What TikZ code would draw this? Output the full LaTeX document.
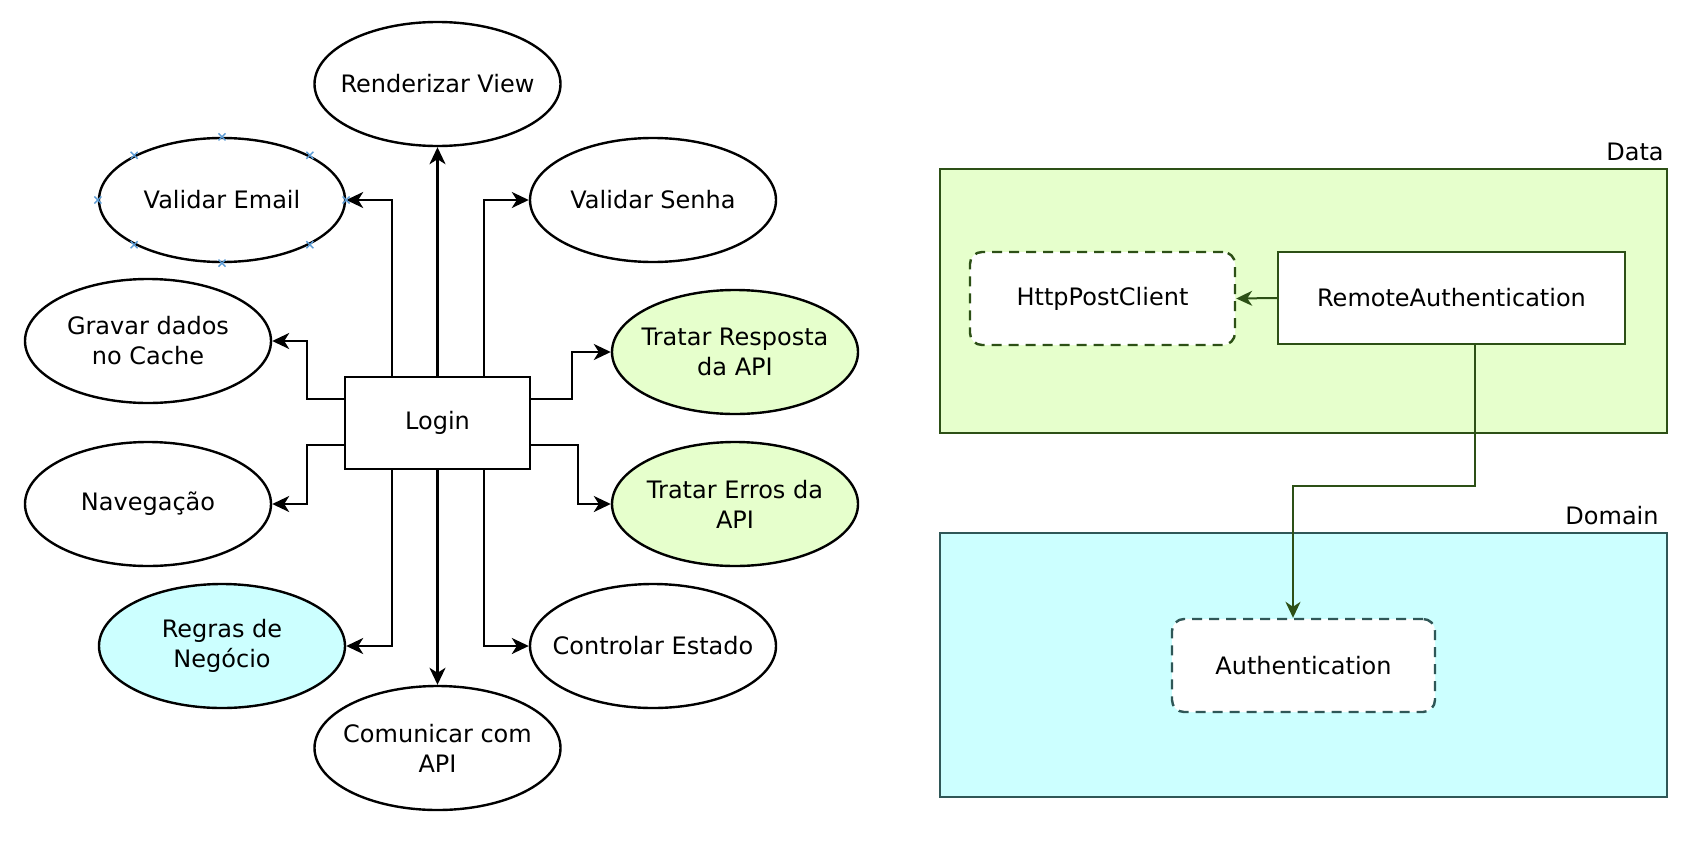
\documentclass[tikz,border=0pt]{standalone}
\usepackage{fontspec}
\setmainfont{DejaVu Sans}
\usetikzlibrary{arrows.meta,shapes.geometric}
\definecolor{gfill}{HTML}{E6FFCC}
\definecolor{gline}{HTML}{2D5016}
\definecolor{cfill}{HTML}{CCFFFF}
\definecolor{cline}{HTML}{2F5757}
\definecolor{markc}{HTML}{5B9BD5}
\tikzset{
  ell/.style={ellipse, draw=black, line width=1.2pt, fill=white, inner sep=0pt,
    minimum width=123pt, minimum height=62pt},
  txt/.style={align=center, inner sep=0pt},
  arr/.style={draw=black, line width=1.2pt, -{Stealth[length=8.5pt,width=8pt,inset=2.5pt]}},
  garr/.style={draw=gline, line width=1pt, -{Stealth[length=8pt,width=7.5pt,inset=2.5pt]}},
  layer/.style={rectangle, line width=1.2pt, inner sep=0pt,
    minimum width=363.5pt, minimum height=132pt},
  dbox/.style={rectangle, rounded corners=6pt, fill=white, line width=1.2pt,
    dash pattern=on 5pt off 3.5pt, inner sep=0pt, minimum height=46.5pt},
  sbox/.style={rectangle, fill=white, draw=gline, line width=1.2pt, inner sep=0pt,
    minimum width=173.5pt, minimum height=46pt},
  xmark/.style={draw=markc, line width=0.7pt}
}
\begin{document}
\begin{tikzpicture}[x=0.5pt, y=-0.5pt, font=\fontsize{12}{15}\selectfont]
\useasboundingbox (0,0) rectangle (1708,841);

% ---------- left: Login and its responsibilities ----------
\node[rectangle, draw=black, line width=1.2pt, fill=white, minimum width=92.5pt,
  minimum height=46pt, inner sep=0pt] (login) at (437.5,423) {Login};

\node[ell, label={[txt,name=rendt]center:Renderizar View}] (rend) at (437.5,84) {};
\node[ell, label={[txt,name=vemailt]center:Validar Email}] (vemail) at (222,200) {};
\node[ell, label={[txt,name=vsenhat]center:Validar Senha}] (vsenha) at (653,200) {};
\node[ell, label={[txt,name=gravart]center:{Gravar dados\\no Cache}}] (gravar) at (148,341) {};
\node[ell, fill=gfill, label={[txt,name=trespt]center:{Tratar Resposta\\da API}}] (tresp) at (735,352) {};
\node[ell, label={[txt,name=navt]center:Navegação}] (nav) at (148,504) {};
\node[ell, fill=gfill, label={[txt,name=terrost]center:{Tratar Erros da\\API}}] (terros) at (735,504) {};
\node[ell, fill=cfill, label={[txt,name=regrast]center:{Regras de\\Negócio}}] (regras) at (222,646) {};
\node[ell, label={[txt,name=ctrlt]center:Controlar Estado}] (ctrl) at (653,646) {};
\node[ell, label={[txt,name=comunt]center:{Comunicar com\\API}}] (comun) at (437.5,748) {};

% connectors
\draw[arr] (login.north) -- (rend.south);
\draw[arr] ([xshift=-22.75pt]login.north) |- (vemail.east);
\draw[arr] ([xshift=23.25pt]login.north) |- (vsenha.west);
\draw[arr] ([yshift=12pt]login.west) -- ++(-37,0) |- (gravar.east);
\draw[arr] ([yshift=-11pt]login.west) -- ++(-37,0) |- (nav.east);
\draw[arr] ([yshift=12pt]login.east) -- ++(41,0) |- (tresp.west);
\draw[arr] ([yshift=-11pt]login.east) -- ++(47,0) |- (terros.west);
\draw[arr] (login.south) -- (comun.north);
\draw[arr] ([xshift=-22.75pt]login.south) |- (regras.east);
\draw[arr] ([xshift=23.25pt]login.south) |- (ctrl.west);

% selection markers on Validar Email
\foreach \a in {north,north east,east,south east,south,south west,west,north west}{
  \draw[xmark] ([shift={(-3.5,-3.5)}]vemail.\a) -- ([shift={(3.5,3.5)}]vemail.\a)
               ([shift={(-3.5,3.5)}]vemail.\a) -- ([shift={(3.5,-3.5)}]vemail.\a);
}

% ---------- right: layers ----------
\node[layer, fill=gfill, draw=gline] (data) at (1303.5,301) {};
\node[anchor=east, inner sep=0pt] (datalbl) at (1664,152) {Data};
\node[layer, fill=cfill, draw=cline] (domain) at (1303.5,665) {};
\node[anchor=east, inner sep=0pt] (domainlbl) at (1659,516) {Domain};

\node[dbox, draw=gline, minimum width=132.5pt] (http) at (1102.5,298.5) {HttpPostClient};
\node[sbox] (remote) at (1451.5,298) {RemoteAuthentication};
\node[dbox, draw=cline, minimum width=131.5pt] (auth) at (1303.5,665.5) {Authentication};

\draw[garr] (remote.west) -- (http.east);
\draw[garr] ([xshift=11.75pt]remote.south) -- ++(0,141) -| ([xshift=-5.25pt]auth.north);
\end{tikzpicture}
\end{document}
